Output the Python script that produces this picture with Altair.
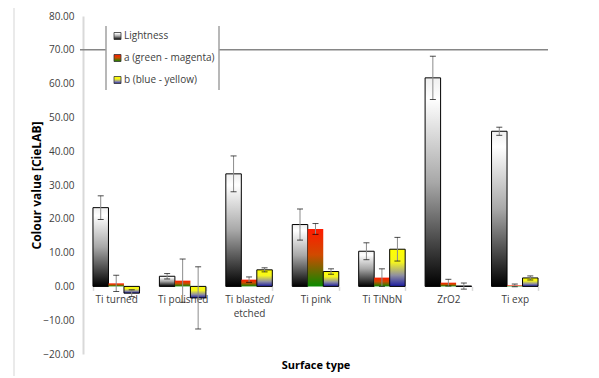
import altair as alt
import pandas as pd

categories = ["Ti turned", "Ti polished", "Ti blasted/ etched", "Ti pink", "Ti TiNbN", "ZrO2", "Ti exp"]
series = ["Lightness", "a (green - magenta)", "b (blue - yellow)"]
lightness = [23.3, 3.0, 33.3, 18.3, 10.4, 61.7, 45.9]
lightness_err = [3.5, 0.8, 5.3, 4.6, 2.5, 6.4, 1.2]
a_vals = [0.9, 1.7, 2.0, 17.0, 2.6, 1.1, 0.3]
a_err = [2.4, 6.4, 0.8, 1.6, 2.6, 1.0, 0.4]
b_vals = [-2.0, -3.4, 4.9, 4.4, 11.0, 0.1, 2.5]
b_err = [1.0, 9.2, 0.6, 0.8, 3.5, 0.9, 0.6]
y_ticks = [-20, -10, 0, 10, 20, 30, 40, 50, 60, 70, 80]
ref_line = 70

vals = [lightness, a_vals, b_vals]
errs = [lightness_err, a_err, b_err]
rows = []
for s, v, e in zip(series, vals, errs):
    for c, vv, ee in zip(categories, v, e):
        rows.append({"cat": c, "series": s, "value": vv, "lo": vv - ee, "hi": vv + ee})
df = pd.DataFrame(rows)

FONT = "Open Sans"

def grad(stops):
    return alt.Gradient(
        gradient="linear", x1=0, y1=0, x2=0, y2=1,
        stops=[alt.GradientStop(offset=o, color=c) for o, c in stops],
    )

grads = {
    series[0]: grad([(0, "#efefef"), (0.1, "#ffffff"), (0.5, "#a8a8a8"), (1, "#000000")]),
    series[1]: grad([(0, "#ff1a00"), (0.45, "#d04a00"), (1, "#0a8a00")]),
    series[2]: grad([(0, "#ffff00"), (0.35, "#f5f520"), (0.7, "#9090a0"), (1, "#1a1aa0")]),
}
strokes = {series[0]: "#000000", series[1]: None, series[2]: "#000000"}

label_expr = "datum.label == 'Ti blasted/ etched' ? ['Ti blasted/', 'etched'] : datum.label"

x_enc = alt.X(
    "cat:N",
    sort=categories,
    scale=alt.Scale(domain=categories, paddingInner=0.3, paddingOuter=0.15),
    axis=alt.Axis(
        title="Surface type", domain=False, ticks=True, tickBand="extent",
        tickColor="#d9d9d9", tickSize=4, tickWidth=1.5, labelAngle=0,
        labelFont=FONT, labelFontSize=10, labelColor="#404040", labelPadding=4,
        labelLineHeight=14, labelExpr=label_expr, offset=-67.6, grid=False,
        titleY=79, titleBaseline="middle", titleFont=FONT, titleFontSize=11,
        titleFontWeight="bold", titleColor="#000000",
    ),
)
xo_enc = alt.XOffset("series:N", sort=series,
                     scale=alt.Scale(domain=series, paddingInner=0, paddingOuter=0))
y_scale = alt.Scale(domain=[-20, 80], nice=False)
y_axis = alt.Axis(
    title="Colour value [CieLAB]", values=y_ticks, tickCount=11, format=".2f", grid=False,
    ticks=False, domainColor="#d9d9d9", domainWidth=2, labelFont=FONT,
    labelFontSize=10, labelColor="#404040", labelPadding=9, labelOverlap=False,
    titleFont=FONT, titleFontSize=12, titleFontWeight="bold", titleColor="#000000",
    titleX=-47, titleY=169, titleBaseline="middle",
)

def Y(field):
    return alt.Y(field, scale=y_scale, axis=y_axis, title="Colour value [CieLAB]")

layers = []
for s in series:
    base = alt.Chart(df).transform_filter(alt.datum.series == s)
    mk = dict(fill=grads[s])
    if strokes[s]:
        mk.update(stroke=strokes[s], strokeWidth=1)
    layers.append(base.mark_bar(**mk).encode(x=x_enc, xOffset=xo_enc, y=Y("value:Q")))

err_base = alt.Chart(df)
layers.append(err_base.mark_rule(color="#8c8c8c", strokeWidth=1).encode(
    x=x_enc, xOffset=xo_enc, y=Y("lo:Q"), y2="hi:Q"))
layers.append(err_base.mark_tick(color="#000000", orient="horizontal", size=6, thickness=1).encode(
    x=x_enc, xOffset=xo_enc, y=Y("hi:Q")))
layers.append(err_base.mark_tick(color="#000000", orient="horizontal", size=6, thickness=1).encode(
    x=x_enc, xOffset=xo_enc, y=Y("lo:Q")))

# horizontal line at 70
ref_df = pd.DataFrame({"y": [ref_line]})
layers.append(alt.Chart(ref_df).mark_rule(color="#868686", strokeWidth=1.5).encode(
    y=Y("y:Q"), x=alt.value(-3), x2=alt.value(465)))

# legend box
leg_df = pd.DataFrame({"k": [0]})
layers.append(alt.Chart(leg_df).mark_rect(fill="white").encode(
    x=alt.value(23), x2=alt.value(136), y=alt.value(10), y2=alt.value(74)))
for xv in [23, 136]:
    layers.append(alt.Chart(leg_df).mark_rule(color="#a0a0a0", strokeWidth=1.5).encode(
        x=alt.value(xv), y=alt.value(10), y2=alt.value(74)))
for i, s in enumerate(series):
    cy = 20 + 22 * i
    layers.append(alt.Chart(leg_df).mark_rect(fill=grads[s], stroke="#333333", strokeWidth=0.8).encode(
        x=alt.value(31), x2=alt.value(38), y=alt.value(cy - 3.5), y2=alt.value(cy + 3.5)))
    layers.append(alt.Chart(leg_df).mark_text(
        text=s, align="left", baseline="middle", font=FONT, fontSize=10, color="#404040").encode(
        x=alt.value(41), y=alt.value(cy)))

# faint chart-area border on the left
layers.append(alt.Chart(leg_df).mark_rule(color="#e3e3e3", strokeWidth=1.5).encode(
    x=alt.value(-69), y=alt.value(-8), y2=alt.value(360)))

chart = alt.layer(*layers).properties(
    width=465, height=338,
    autosize=alt.AutoSizeParams(type="none"),
    padding={"left": 75, "top": 8, "right": 40, "bottom": 22},
).configure_view(stroke=None)

chart.save("out.html", embed_options={"renderer": "svg", "actions": False})
